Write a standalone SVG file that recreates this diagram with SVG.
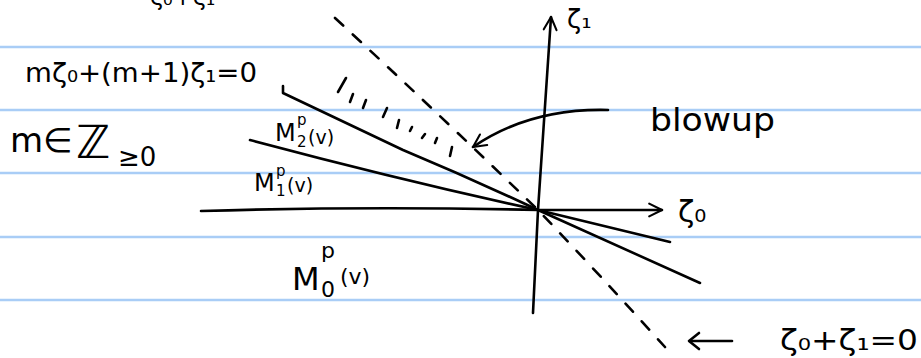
<svg xmlns="http://www.w3.org/2000/svg" width="921" height="358" viewBox="0 0 921 358">
<defs>
<style>
.rule{stroke:#a9cdf6;stroke-width:2.5}
.ink{fill:none;stroke:#000;stroke-width:2.6;stroke-linecap:round;stroke-linejoin:round}
.dash{fill:none;stroke:#000;stroke-width:2.6;stroke-linecap:round;stroke-dasharray:11 13}
.t{font-family:"DejaVu Sans",sans-serif;fill:#000}
</style>
<marker id="ah" viewBox="0 0 20 20" refX="18" refY="10" markerWidth="16" markerHeight="16" markerUnits="userSpaceOnUse" orient="auto">
<path d="M2 2 L18 10 L2 18" fill="none" stroke="#000" stroke-width="2.6" stroke-linecap="round" stroke-linejoin="round"/>
</marker>
</defs>
<rect width="921" height="358" fill="#fff"/>
<g id="rules">
<line class="rule" x1="0" y1="47" x2="921" y2="47"/>
<line class="rule" x1="0" y1="110" x2="921" y2="110"/>
<line class="rule" x1="0" y1="173" x2="921" y2="173"/>
<line class="rule" x1="0" y1="237" x2="921" y2="237"/>
<line class="rule" x1="0" y1="300" x2="921" y2="300"/>
</g>
<g id="connectors">
<path id="axis-z0" class="ink" d="M201 211 Q370 206 538 210 L662 210" marker-end="url(#ah)"/>
<path id="axis-z1" class="ink" d="M533 313 L538 210 L551 17" marker-end="url(#ah)"/>
<path id="line-m1" class="ink" d="M250 140 Q400 180 538 210 L670 242"/>
<path id="line-m2" class="ink" d="M283 86 L283 93 L403 150 Q470 178 538 210 L700 283"/>
<path id="line-diag" class="dash" d="M335 18 Q440 115 538 210 Q600 275 665 347"/>
<path id="arrow-blowup" class="ink" d="M608 110 Q530 108 473 147" marker-end="url(#ah)"/>
<path id="arrow-left" class="ink" d="M732 341 L690 341"/>
<path class="ink" d="M699 333 L689 341 L699 349"/>
<g id="hatch" class="ink">
<line x1="338" y1="92" x2="346" y2="78"/>
<line x1="350" y1="102" x2="353" y2="94"/>
<line x1="363" y1="108" x2="366" y2="100"/>
<line x1="383" y1="117" x2="387" y2="108"/>
<line x1="397" y1="128" x2="399" y2="120"/>
<line x1="410" y1="131" x2="412" y2="127"/>
<line x1="422" y1="138" x2="425" y2="134"/>
<line x1="435" y1="143" x2="437" y2="138"/>
<line x1="450" y1="156" x2="452" y2="147"/>
</g>
</g>
<g id="labels">
<text class="t" x="150" y="5" font-size="24">ζ₀+ζ₁</text>
<g id="eq-m"><text class="t" x="25" y="82" font-size="27" textLength="232" lengthAdjust="spacingAndGlyphs">mζ₀+(m+1)ζ₁=0</text></g>
<g id="m-in-z"><text class="t" x="10" y="152" font-size="34">m∈</text><text class="t" x="76" y="158" font-size="46">ℤ</text><text class="t" x="118" y="166" font-size="26">≥0</text></g>
<g id="m2"><text class="t" x="275" y="141" font-size="24">M</text><text class="t" x="297" y="125" font-size="15">p</text><text class="t" x="297" y="147" font-size="15">2</text><text class="t" x="308" y="144" font-size="19">(v)</text></g>
<g id="m1"><text class="t" x="254" y="191" font-size="24">M</text><text class="t" x="276" y="176" font-size="15">p</text><text class="t" x="276" y="196" font-size="15">1</text><text class="t" x="287" y="192" font-size="19">(v)</text></g>
<g id="m0"><text class="t" x="292" y="290" font-size="32">M</text><text class="t" x="321" y="258" font-size="22">p</text><text class="t" x="321" y="297" font-size="22">0</text><text class="t" x="340" y="284" font-size="22">(v)</text></g>
<g id="z1"><text class="t" x="567" y="28" font-size="26">ζ₁</text></g>
<g id="z0"><text class="t" x="678" y="222" font-size="30">ζ₀</text></g>
<g id="blowup"><text class="t" x="650" y="131" font-size="32" textLength="125" lengthAdjust="spacingAndGlyphs">blowup</text></g>
<g id="diag-eq"><text class="t" x="780" y="350" font-size="28" textLength="138" lengthAdjust="spacingAndGlyphs">ζ₀+ζ₁=0</text></g>
</g>
</svg>
